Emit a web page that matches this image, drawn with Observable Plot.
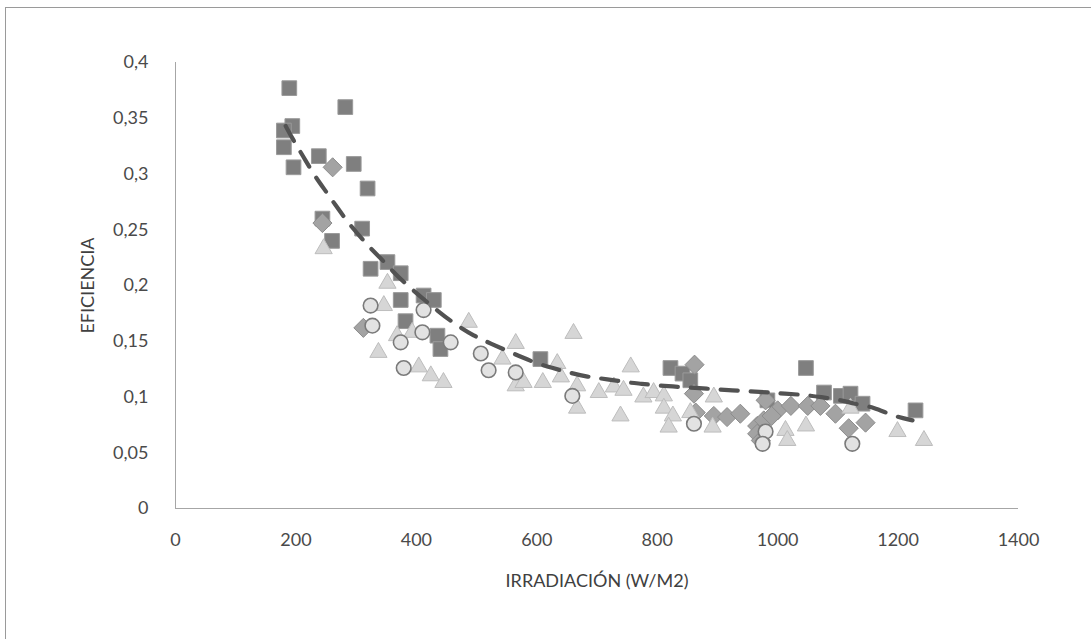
<!DOCTYPE html>
<html>
<head>
<meta charset="utf-8">
<script src="https://cdn.jsdelivr.net/npm/d3@7"></script>
<script src="https://cdn.jsdelivr.net/npm/@observablehq/plot@0.6"></script>
<style>
  html, body { margin: 0; padding: 0; background: #fff; }
  #wrap { position: relative; width: 1091px; height: 639px; overflow: hidden; }
  #frame { position: absolute; left: 5px; top: 7px; width: 1100px; height: 700px;
           border-left: 1px solid #9a9a9a; border-top: 1px solid #9a9a9a; }
  #chart { position: absolute; left: 0; top: 0; }
</style>
</head>
<body>
<div id="wrap"><div id="frame"></div><div id="chart"></div></div>
<script>
// Tick values
const xTicks = [0, 200, 400, 600, 800, 1000, 1200, 1400];
const yTicks = [0, 0.05, 0.1, 0.15, 0.2, 0.25, 0.3, 0.35, 0.4];

// Series: squares
const squareIrr = [189, 282, 194, 180, 180, 196, 238, 296, 319, 244, 260, 310, 324, 352, 374, 374, 412, 429, 382, 435, 440, 606, 822, 842, 855, 1047, 983, 1077, 1105, 1121, 1141, 1229];
const squareEff = [0.377, 0.360, 0.343, 0.339, 0.324, 0.306, 0.316, 0.309, 0.287, 0.260, 0.240, 0.251, 0.215, 0.221, 0.211, 0.187, 0.191, 0.187, 0.168, 0.155, 0.143, 0.134, 0.126, 0.121, 0.115, 0.126, 0.097, 0.104, 0.101, 0.103, 0.094, 0.088];

// Series: diamonds
const diamondIrr = [261, 244, 312, 862, 861, 864, 894, 916, 938, 966, 977, 966, 972, 980, 1000, 1022, 1050, 1071, 1096, 1118, 1146, 990];
const diamondEff = [0.306, 0.256, 0.162, 0.129, 0.103, 0.086, 0.083, 0.082, 0.085, 0.074, 0.079, 0.067, 0.061, 0.097, 0.088, 0.092, 0.092, 0.092, 0.085, 0.072, 0.077, 0.083];

// Series: triangles
const triangleIrr = [246, 352, 346, 368, 393, 337, 404, 424, 445, 487, 543, 565, 565, 578, 610, 634, 640, 661, 667, 667, 703, 728, 744, 739, 756, 777, 794, 811, 811, 826, 819, 855, 894, 892, 1013, 1016, 1047, 1121, 1199, 1243];
const triangleEff = [0.233, 0.202, 0.182, 0.155, 0.158, 0.140, 0.127, 0.119, 0.113, 0.167, 0.134, 0.148, 0.110, 0.113, 0.113, 0.130, 0.118, 0.157, 0.110, 0.090, 0.104, 0.109, 0.106, 0.083, 0.127, 0.100, 0.104, 0.101, 0.090, 0.083, 0.073, 0.086, 0.100, 0.073, 0.070, 0.061, 0.074, 0.090, 0.069, 0.061];

// Series: circles
const circleIrr = [324, 327, 412, 410, 374, 457, 379, 507, 520, 565, 659, 861, 980, 975, 1124];
const circleEff = [0.182, 0.164, 0.178, 0.158, 0.149, 0.149, 0.126, 0.139, 0.124, 0.122, 0.101, 0.076, 0.069, 0.058, 0.058];

// Trend line
const trendIrr = [183, 196, 213, 229, 249, 266, 287, 319, 340, 362, 385, 440, 468, 495, 523, 561, 595, 626, 653, 684, 717, 751, 772, 806, 839, 872, 892, 925, 955, 988, 1010, 1043, 1071, 1108, 1126, 1160, 1191, 1224];
const trendEff = [0.343, 0.330, 0.315, 0.300, 0.285, 0.272, 0.256, 0.236, 0.225, 0.212, 0.200, 0.175, 0.164, 0.155, 0.148, 0.139, 0.131, 0.126, 0.122, 0.118, 0.116, 0.113, 0.112, 0.110, 0.109, 0.108, 0.107, 0.106, 0.105, 0.104, 0.103, 0.102, 0.100, 0.097, 0.094, 0.091, 0.083, 0.079];

const xLabel = "IRRADIACIÓN (W/M2)";
const yLabel = "EFICIENCIA";

const pts = (xs, ys) => xs.map((x, i) => ({x, y: ys[i]}));
const squares = pts(squareIrr, squareEff);
const diamonds = pts(diamondIrr, diamondEff);
const triangles = pts(triangleIrr, triangleEff);
const circles = pts(circleIrr, circleEff);
const trend = pts(trendIrr, trendEff);

const chart = Plot.plot({
  width: 1091,
  height: 639,
  marginLeft: 175,
  marginRight: 73,
  marginTop: 62,
  marginBottom: 131,
  style: {fontFamily: "Lato, 'Open Sans', sans-serif", fontSize: "18px", color: "#4a4a4a", background: "transparent", overflow: "visible"},
  x: {domain: [0, 1400], ticks: xTicks, tickSize: 0, tickPadding: 25, label: null,
      tickFormat: d => String(d)},
  y: {domain: [0, 0.4], ticks: yTicks, tickSize: 0, tickPadding: 27, label: null,
      tickFormat: d => String(d).replace(".", ",")},
  marks: [
    Plot.ruleX([0], {stroke: "#a6a6a6"}),
    Plot.ruleY([0], {stroke: "#a6a6a6"}),
    Plot.dot(squares, {x: "x", y: "y", symbol: "square", r: 8.3, fill: "#7f7f7f", stroke: "#9a9a9a", strokeWidth: 1}),
    Plot.dot(diamonds, {x: "x", y: "y", symbol: "diamond2", r: 8.6, fill: "#a3a3a3", stroke: "#8c8c8c", strokeWidth: 1}),
    Plot.dot(triangles, {x: "x", y: "y", symbol: "triangle", r: 6.4, fill: "#d6d6d6", stroke: "#bdbdbd", strokeWidth: 1}),
    Plot.dot(circles, {x: "x", y: "y", symbol: "circle", r: 7.3, fill: "#e2e2e2", stroke: "#7a7a7a", strokeWidth: 1.6}),
    Plot.line(trend, {x: "x", y: "y", stroke: "#525252", strokeWidth: 4.2, strokeDasharray: "17,13", strokeLinecap: "round", curve: "basis"}),
    Plot.text([xLabel], {frameAnchor: "bottom", lineAnchor: "middle", textAnchor: "middle", dy: 73, fontSize: 18, fill: "#404040"}),
    Plot.text([yLabel], {frameAnchor: "left", lineAnchor: "middle", textAnchor: "middle", rotate: -90, dx: -87, fontSize: 18, fill: "#404040"})
  ]
});
document.getElementById("chart").appendChild(chart);
</script>
</body>
</html>
